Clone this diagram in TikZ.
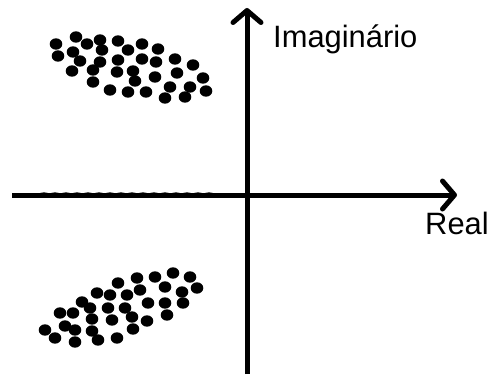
\documentclass[tikz,border=0pt]{standalone}
\usepackage{fontspec}
\setmainfont{Liberation Sans}
\usepackage{tikz}
\usetikzlibrary{arrows.meta, positioning}

\begin{document}
\begin{tikzpicture}[
          x=1bp, y=-1bp,
          axis/.style={line width=5bp, -{Straight Barb[length=12bp, width=28bp, line width=5bp, round]}},
          label/.style={inner sep=0pt, font=\fontsize{31}{37}\selectfont},
          pole/.style={fill=black}
        ]
          \useasboundingbox (0,0) rectangle (491,374);

          % axes
          \coordinate (west) at (12,195);
          \coordinate (east) at (457,195);
          \coordinate (south) at (247,374);
          \coordinate (north) at (247,8);
          \draw[axis] (west) -- (east);
          \draw[axis] (south) -- (north);

          \node[label, anchor=base west] (imag) at (273,47) {Imaginário};
          \node[label, anchor=base west] (real) at (425,234) {Real};

          % upper cluster
          \foreach \px/\py in {56/44, 76/37, 87/44, 100/40, 118/41, 142/44,
                               58/56, 73/52, 102/50, 128/50, 158/49,
                               80/61, 100/62, 118/60, 142/59, 156/62, 175/59, 193/65,
                               72/71, 93/70, 117/72, 133/71, 155/77, 177/73, 203/78,
                               93/82, 135/81, 170/87, 190/87, 206/91,
                               110/90, 128/92, 146/92, 165/98, 185/97}
            \fill[pole] (\px,\py) ellipse (6.3 and 5.7);

          % lower cluster
          \foreach \px/\py in {173/273, 155/277, 137/278, 190/277, 118/283,
                               165/287, 182/292, 197/288, 97/293, 110/295, 127/295, 140/290,
                               82/302, 148/303, 165/303, 183/303, 90/308, 108/308, 125/308,
                               60/313, 73/313, 92/319, 112/320, 132/317, 147/321, 167/315,
                               65/326, 45/330, 75/330, 92/331, 133/329,
                               55/338, 75/342, 98/340, 117/338}
            \fill[pole] (\px,\py) ellipse (6.3 and 5.7);

          % poles on the real axis
          \foreach \px in {44,55,...,212}
            \fill[pole] (\px,194.5) ellipse (5.5 and 2.2);
        \end{tikzpicture}
\end{document}
